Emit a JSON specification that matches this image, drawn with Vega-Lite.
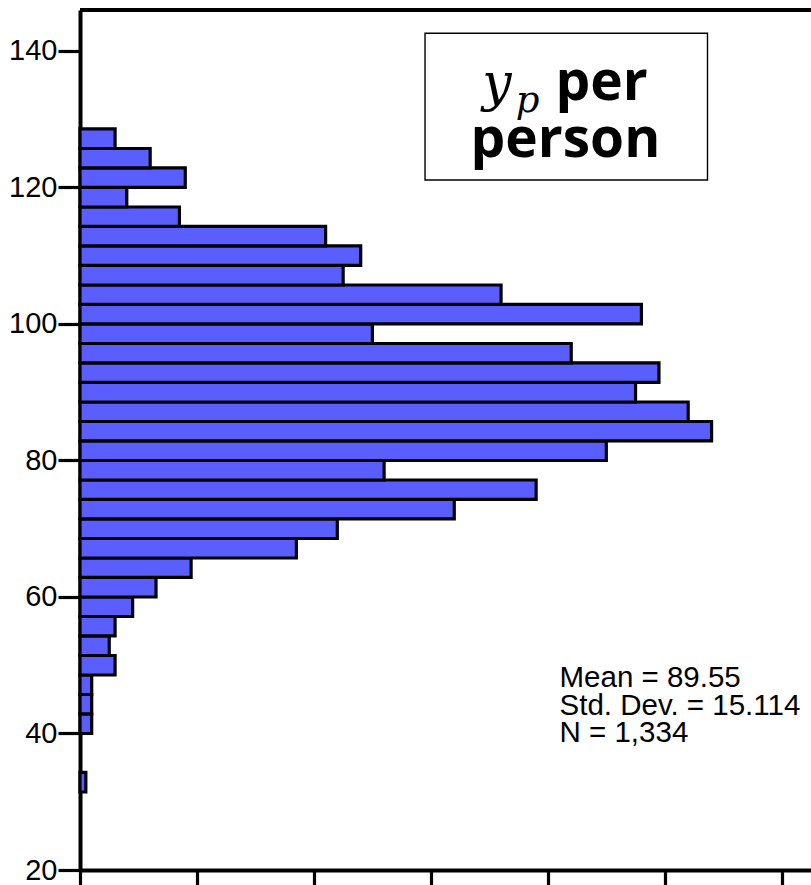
{
  "$schema": "https://vega.github.io/schema/vega-lite/v6.json",
  "autosize": "none",
  "width": 731,
  "height": 860,
  "padding": {"left": 80, "top": 10, "right": 0, "bottom": 15},
  "background": "white",
  "config": {"view": {"stroke": null}},
  "datasets": {
    "hist": [
      {"lo": 31.43, "hi": 34.29, "count": 1},
      {"lo": 40, "hi": 42.86, "count": 2},
      {"lo": 42.86, "hi": 45.71, "count": 2},
      {"lo": 45.71, "hi": 48.57, "count": 2},
      {"lo": 48.57, "hi": 51.43, "count": 6},
      {"lo": 51.43, "hi": 54.29, "count": 5},
      {"lo": 54.29, "hi": 57.14, "count": 6},
      {"lo": 57.14, "hi": 60, "count": 9},
      {"lo": 60, "hi": 62.86, "count": 13},
      {"lo": 62.86, "hi": 65.71, "count": 19},
      {"lo": 65.71, "hi": 68.57, "count": 37},
      {"lo": 68.57, "hi": 71.43, "count": 44},
      {"lo": 71.43, "hi": 74.29, "count": 64},
      {"lo": 74.29, "hi": 77.14, "count": 78},
      {"lo": 77.14, "hi": 80, "count": 52},
      {"lo": 80, "hi": 82.86, "count": 90},
      {"lo": 82.86, "hi": 85.71, "count": 108},
      {"lo": 85.71, "hi": 88.57, "count": 104},
      {"lo": 88.57, "hi": 91.43, "count": 95},
      {"lo": 91.43, "hi": 94.29, "count": 99},
      {"lo": 94.29, "hi": 97.14, "count": 84},
      {"lo": 97.14, "hi": 100, "count": 50},
      {"lo": 100, "hi": 102.86, "count": 96},
      {"lo": 102.86, "hi": 105.71, "count": 72},
      {"lo": 105.71, "hi": 108.57, "count": 45},
      {"lo": 108.57, "hi": 111.43, "count": 48},
      {"lo": 111.43, "hi": 114.29, "count": 42},
      {"lo": 114.29, "hi": 117.14, "count": 17},
      {"lo": 117.14, "hi": 120, "count": 8},
      {"lo": 120, "hi": 122.86, "count": 18},
      {"lo": 122.86, "hi": 125.71, "count": 12},
      {"lo": 125.71, "hi": 128.57, "count": 6}
    ],
    "stats": [
      {"x": 82, "y": 46.86, "t": "Mean = 89.55"},
      {"x": 82, "y": 42.71, "t": "Std. Dev. = 15.114"},
      {"x": 82, "y": 38.8, "t": "N = 1,334"}
    ]
  },
  "layer": [
    {
      "data": {"name": "hist"},
      "mark": {"type": "rect", "fill": "#5a5eff", "stroke": "black", "strokeWidth": 3.2},
      "encoding": {
        "x": {
          "field": "count", "type": "quantitative",
          "scale": {"domain": [0, 125], "nice": false, "zero": true, "padding": 0},
          "axis": {
            "values": [0, 20, 40, 60, 80, 100, 120],
            "labels": false, "title": null, "grid": false,
            "domainColor": "black", "domainWidth": 4,
            "tickColor": "black", "tickWidth": 3.2, "tickSize": 15
          }
        },
        "x2": {"datum": 0},
        "y": {
          "field": "lo", "type": "quantitative",
          "scale": {"domain": [20, 146], "nice": false, "zero": false, "padding": 0},
          "axis": {
            "values": [20, 40, 60, 80, 100, 120, 140],
            "title": null, "grid": false,
            "labelFont": "Liberation Sans", "labelFontSize": 29, "labelColor": "black",
            "labelPadding": 1,
            "domainColor": "black", "domainWidth": 4,
            "tickColor": "black", "tickWidth": 3.2, "tickSize": 22
          }
        },
        "y2": {"field": "hi"}
      }
    },
    {
      "data": {"values": [{"a": 0, "b": 125, "y": 146}]},
      "mark": {"type": "rule", "color": "black", "strokeWidth": 4},
      "encoding": {
        "x": {"field": "a", "type": "quantitative"},
        "x2": {"field": "b"},
        "y": {"field": "y", "type": "quantitative"}
      }
    },
    {
      "data": {"values": [{"x1": 59, "x2": 107.3, "y1": 121.1, "y2": 142.6}]},
      "mark": {"type": "rect", "fill": "white", "stroke": "black", "strokeWidth": 1.4},
      "encoding": {
        "x": {"field": "x1", "type": "quantitative"},
        "x2": {"field": "x2"},
        "y": {"field": "y1", "type": "quantitative"},
        "y2": {"field": "y2"}
      }
    },
    {
      "data": {"values": [{"x": 68.8, "y": 132.8, "t": "y"}]},
      "mark": {"type": "text", "font": "DejaVu Serif", "fontStyle": "italic", "fontSize": 52, "align": "left", "baseline": "alphabetic", "color": "black"},
      "encoding": {
        "x": {"field": "x", "type": "quantitative"},
        "y": {"field": "y", "type": "quantitative"},
        "text": {"field": "t"}
      }
    },
    {
      "data": {"values": [{"x": 74.5, "y": 131.06, "t": "p"}]},
      "mark": {"type": "text", "font": "DejaVu Serif", "fontStyle": "italic", "fontSize": 37, "align": "left", "baseline": "alphabetic", "color": "black"},
      "encoding": {
        "x": {"field": "x", "type": "quantitative"},
        "y": {"field": "y", "type": "quantitative"},
        "text": {"field": "t"}
      }
    },
    {
      "data": {"values": [{"x": 81.3, "y": 132.8, "t": "per"}]},
      "mark": {"type": "text", "font": "Open Sans", "fontWeight": "bold", "fontSize": 55, "align": "left", "baseline": "alphabetic", "color": "black"},
      "encoding": {
        "x": {"field": "x", "type": "quantitative"},
        "y": {"field": "y", "type": "quantitative"},
        "text": {"field": "t"}
      }
    },
    {
      "data": {"values": [{"x": 83.0, "y": 124.47, "t": "person"}]},
      "mark": {"type": "text", "font": "Open Sans", "fontWeight": "bold", "fontSize": 55, "align": "center", "baseline": "alphabetic", "color": "black"},
      "encoding": {
        "x": {"field": "x", "type": "quantitative"},
        "y": {"field": "y", "type": "quantitative"},
        "text": {"field": "t"}
      }
    },
    {
      "data": {"name": "stats"},
      "mark": {"type": "text", "font": "Liberation Sans", "fontSize": 29.5, "align": "left", "baseline": "alphabetic", "color": "black"},
      "encoding": {
        "x": {"field": "x", "type": "quantitative"},
        "y": {"field": "y", "type": "quantitative"},
        "text": {"field": "t"}
      }
    }
  ]
}
